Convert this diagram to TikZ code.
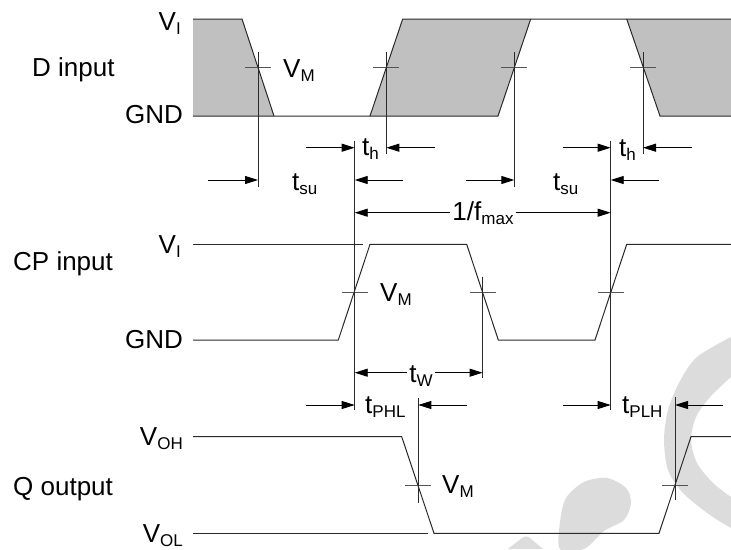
\documentclass[tikz,border=0pt]{standalone}
\usepackage{fontspec}
\setmainfont{Liberation Sans}
\usetikzlibrary{arrows.meta}
\newcommand{\lsub}[1]{\raisebox{-4pt}{\fontsize{17}{17}\selectfont #1}}
\definecolor{dfill}{HTML}{C0C0C0}
\definecolor{wmark}{HTML}{DCDCDC}
\definecolor{wline}{HTML}{2A2A2A}
\definecolor{tline}{HTML}{555555}
\begin{document}
\begin{tikzpicture}[x=1pt,y=-1pt,
  wave/.style={line width=1pt, draw=wline, line join=miter},
  tickmark/.style={line width=1pt, draw=tline},
  marker/.style={line width=0.9pt, draw=wline},
  dim/.style={line width=0.9pt, draw=black, -{Triangle[length=13pt,width=8pt]}},
  lab/.style={inner sep=0pt, font=\fontsize{26}{30}\selectfont},
]
\useasboundingbox (0,0) rectangle (731,549);
\fill[white] (0,0) rectangle (731,549);
% watermark
\fill[wmark] plot[smooth] coordinates {(731,337) (697,357) (680,381) (668,410) (664,440) (668,470) (683,493) (710,515) (731,528)}
  -- plot[smooth] coordinates {(731,497) (713,483) (697,463) (691,440) (696,417) (710,397) (731,377)} -- cycle;
\fill[wmark] plot[smooth cycle] coordinates {(560,549) (560,522) (566,498) (584,482) (607,478) (626,488) (631,503) (624,520) (604,531) (584,549)};
\fill[wmark] (508,549) -- (522,538) .. controls (525,536) and (527,536) .. (530,538) -- (543,549) -- cycle;
% D input shading
\fill[dfill] (193,19) -- (242,19) -- (274,116) -- (193,116) -- cycle;
\fill[dfill] (370,116) -- (402.7,19) -- (530.7,19) -- (498,116) -- cycle;
\fill[dfill] (626.7,19) -- (731,19) -- (731,116) -- (660,116) -- cycle;
% coordinates
\coordinate (d1) at (258,67.7);
\coordinate (d2) at (386.3,67.7);
\coordinate (d3) at (514.3,67.7);
\coordinate (d4) at (643,67.7);
\coordinate (c1) at (354.7,292.3);
\coordinate (c2) at (482.6,292.3);
\coordinate (c3) at (610.7,292.3);
\coordinate (q1) at (418,485);
\coordinate (q2) at (675,485);
% D waveform
\draw[wave] (193,19) -- (242,19) -- (274,116);
\draw[wave] (193,116) -- (370,116) -- (402.7,19) -- (731,19);
\draw[wave] (370,116) -- (498,116) -- (530.7,19);
\draw[wave] (626.7,19) -- (660,116) -- (731,116);
% CP waveform
\draw[wave] (193,244.3) -- (363.3,244.3);
\draw[wave] (193,340) -- (338.3,340) -- (370,244.3) -- (466.7,244.3) -- (498.3,340) -- (595,340) -- (626.7,244.3) -- (731,244.3);
% Q waveform
\draw[wave] (193,436.7) -- (401.7,436.7) -- (434,533.3) -- (659,533.3) -- (691,436.7) -- (731,436.7);
\draw[wave] (193,533.3) -- (428.3,533.3);
% ticks
\foreach \p in {d1,d2,d3,d4,c1,c2,c3,q1,q2}
  \draw[tickmark] ([xshift=-13pt]\p) -- ([xshift=13pt]\p);
% vertical marker lines
\draw[marker] (258,52) -- (258,187);
\draw[marker] (386.3,52) -- (386.3,154);
\draw[marker] (514.3,52) -- (514.3,187);
\draw[marker] (643,52) -- (643,154);
\draw[marker] (354.7,141) -- (354.7,410);
\draw[marker] (610.7,141) -- (610.7,410);
\draw[marker] (482.6,276.7) -- (482.6,378);
\draw[marker] (418.3,398) -- (418.3,503);
\draw[marker] (675,397) -- (675,500);
% labels
\node[lab, anchor=base east] (dvi) at (181,30) {V\lsub{I}};
\node[lab, anchor=base west] (dlab) at (32,76) {D input};
\node[lab, anchor=base east] (dgnd) at (183,123) {GND};
\node[lab, anchor=base west] (dvm) at (283,77) {V\lsub{M}};
\node[lab, anchor=base west] (th1) at (362,155) {t\lsub{h}};
\node[lab, anchor=base west] (tsu1) at (292,190) {t\lsub{su}};
\node[lab, anchor=base west] (tsu2) at (553,190) {t\lsub{su}};
\node[lab, anchor=base west] (th2) at (619,156) {t\lsub{h}};
\node[lab, anchor=base, inner xsep=2pt] (fmax) at (483,220) {1/f\lsub{max}};
\node[lab, anchor=base east] (cvi) at (181,253) {V\lsub{I}};
\node[lab, anchor=base west] (clab) at (13,270) {CP input};
\node[lab, anchor=base east] (cgnd) at (183,348) {GND};
\node[lab, anchor=base west] (cvm) at (380,301) {V\lsub{M}};
\node[lab, anchor=base, inner xsep=2pt] (tw) at (421,382) {t\lsub{W}};
\node[lab, anchor=base west] (tphl) at (365,413) {t\lsub{PHL}};
\node[lab, anchor=base west] (tplh) at (622,413) {t\lsub{PLH}};
\node[lab, anchor=base east] (voh) at (183,445) {V\lsub{OH}};
\node[lab, anchor=base west] (qlab) at (13,495) {Q output};
\node[lab, anchor=base east] (vol) at (183,542) {V\lsub{OL}};
\node[lab, anchor=base west] (qvm) at (442,493) {V\lsub{M}};
% dimension arrows
\draw[dim] (208,180) -- (258,180);
\draw[dim] (306,147.7) -- (354.7,147.7);
\draw[dim] (435,147.7) -- (386.3,147.7);
\draw[dim] (402.7,180) -- (354.7,180);
\draw[dim] (466,180) -- (514.3,180);
\draw[dim] (659,180) -- (610.7,180);
\draw[dim] (562.7,147.7) -- (610.7,147.7);
\draw[dim] (691.7,147.7) -- (643,147.7);
\draw[dim] (fmax.west |- 0,212.7) -- (354.7,212.7);
\draw[dim] (fmax.east |- 0,212.7) -- (610.7,212.7);
\draw[dim] (tw.west |- 0,372.7) -- (354.7,372.7);
\draw[dim] (tw.east |- 0,372.7) -- (482.6,372.7);
\draw[dim] (306,405) -- (354.7,405);
\draw[dim] (466.7,405) -- (418.3,405);
\draw[dim] (562.7,405) -- (610.7,405);
\draw[dim] (723,405) -- (675,405);
\end{tikzpicture}
\end{document}
